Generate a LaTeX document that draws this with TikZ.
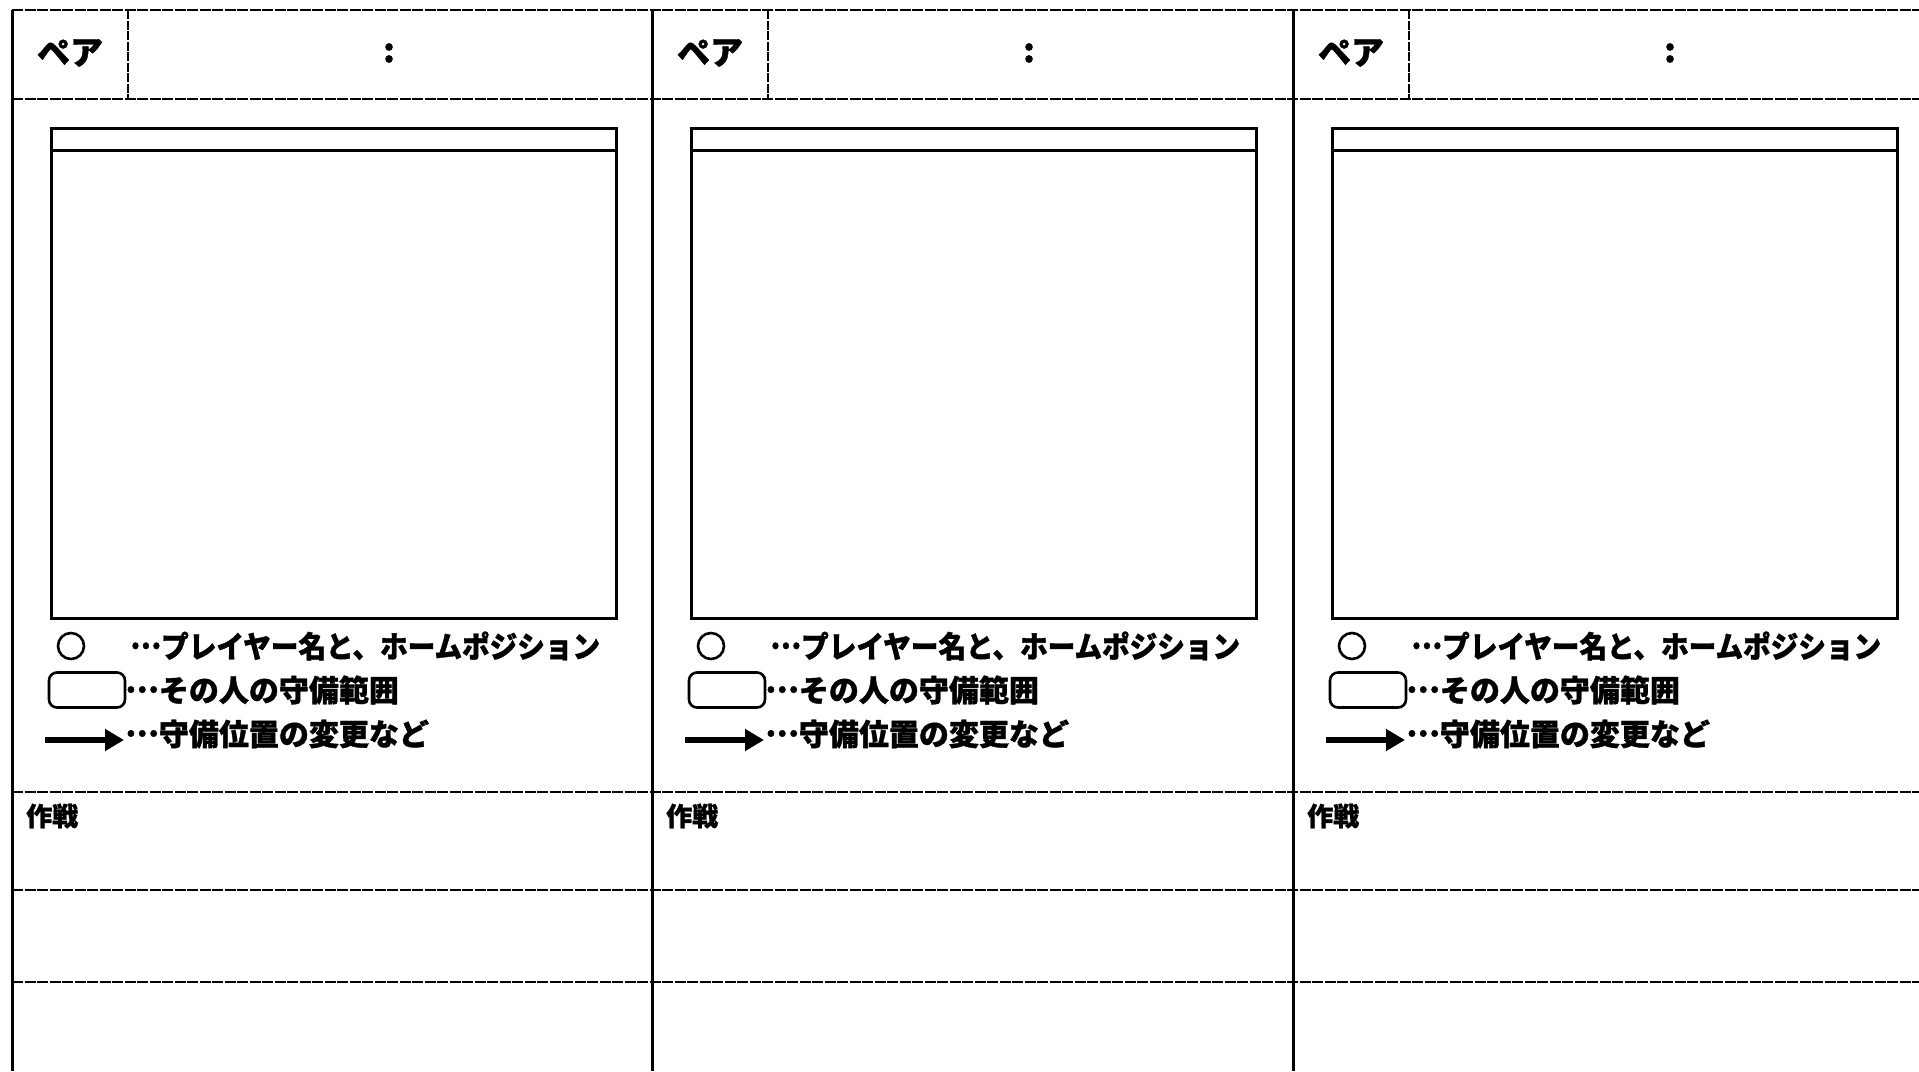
\documentclass[tikz,border=0pt]{standalone}
\usepackage{fontspec}
\newfontfamily\jp{Noto Sans CJK JP}[BoldFeatures={FakeBold=1.2}]
\usetikzlibrary{arrows.meta}
\newcommand{\midell}{\raisebox{0.3em}{…}}
\begin{document}
\begin{tikzpicture}[x=1pt,y=-1pt,
  vline/.style={line width=3pt},
  pline/.style={line width=1.3pt, dash pattern=on 9pt off 1.5pt},
  hline/.style={line width=1.6pt, dash pattern=on 11pt off 1.5pt},
  field/.style={line width=3pt},
  lab/.style={font=\jp\bfseries\fontsize{30}{32}\selectfont, inner sep=0pt, anchor=west},
  pairtxt/.style={font=\jp\bfseries\fontsize{33}{36}\selectfont, inner sep=0pt},
  small/.style={font=\jp\bfseries\fontsize{26}{28}\selectfont, inner sep=0pt, anchor=west},
  circmark/.style={draw, circle, minimum size=26pt, inner sep=0pt, line width=2.6pt},
  rngmark/.style={draw, rounded corners=8pt, minimum width=76pt, minimum height=35pt, inner sep=0pt, line width=2.6pt},
  arr/.style={line width=6.5pt, -{Triangle[length=19pt,width=21pt]}}]
\useasboundingbox[fill=white] (0,0) rectangle (1919,1071);
% horizontal lines
\foreach \yy/\nm in {10/top,99/head,792/sak,890/la,982/lb}{
  \coordinate (\nm L) at (12,\yy);
  \coordinate (\nm R) at (1919,\yy);
  \draw[hline] (\nm L) -- (\nm R);
}
% columns
\foreach \i/\ox in {1/12,2/652,3/1293}{
  \coordinate (vt\i) at (\ox,10);
  \coordinate (vb\i) at (\ox,1071);
  \draw[vline] (vt\i) -- (vb\i);
  \coordinate (pt\i) at (\ox+116,10);
  \coordinate (pb\i) at (\ox+116,99);
  \draw[pline] (pt\i) -- (pb\i);
  \node[pairtxt] (pair\i) at (\ox+58,53) {ペア};
  \node[pairtxt] (colon\i) at (\ox+377,53) {:};
  \coordinate (fa\i) at (\ox+39,128);
  \coordinate (fb\i) at (\ox+604,618);
  \draw[field] (fa\i) rectangle (fb\i);
  \coordinate (fl\i) at (\ox+39,150);
  \coordinate (fr\i) at (\ox+604,150);
  \draw[field] (fl\i) -- (fr\i);
  \node[circmark] (circ\i) at (\ox+59,646) {};
  \node[lab] (ta\i) at (\ox+118,646) {\scalebox{0.92}[1]{\midell プレイヤー名と、ホームポジション}};
  \node[rngmark] (rng\i) at (\ox+75,690) {};
  \node[lab] (tb\i) at (\ox+113,690) {\midell その人の守備範囲};
  \coordinate (as\i) at (\ox+33,740);
  \coordinate (ae\i) at (\ox+112,740);
  \draw[arr] (as\i) -- (ae\i);
  \node[lab] (tc\i) at (\ox+113,734) {\midell 守備位置の変更など};
  \node[small] (sak\i) at (\ox+14,816) {作戦};
}
\end{tikzpicture}
\end{document}
